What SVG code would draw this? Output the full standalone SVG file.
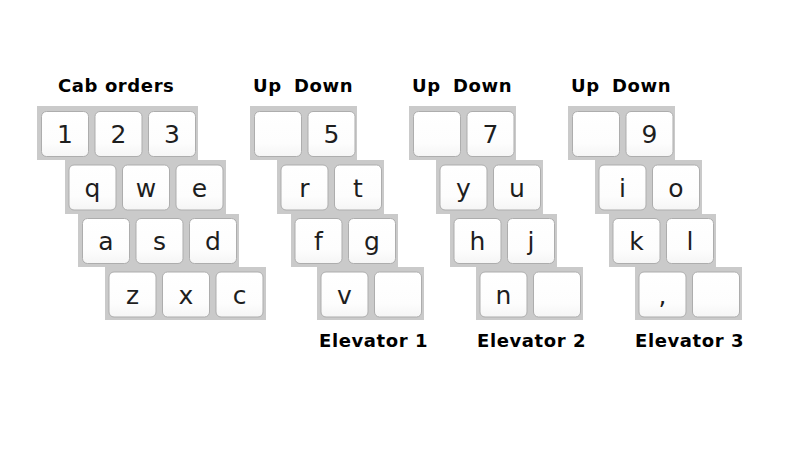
<svg xmlns="http://www.w3.org/2000/svg" width="800" height="450" viewBox="0 0 800 450">
<defs>
<linearGradient id="kg" x1="0" y1="0" x2="0" y2="1">
<stop offset="0" stop-color="#ffffff"/>
<stop offset="0.7" stop-color="#fdfdfd"/>
<stop offset="1" stop-color="#f5f5f5"/>
</linearGradient>
<style>
.bg{fill:#cacaca}
.k{fill:url(#kg);stroke:#adadad;stroke-width:1}
.kt{font-family:"DejaVu Sans",sans-serif;font-size:25px;fill:#1e1e1e;text-anchor:middle}
.lb{font-family:"DejaVu Sans",sans-serif;font-size:18px;font-weight:bold;fill:#000;letter-spacing:0.6px}
</style>
</defs>
<rect width="800" height="450" fill="#fff"/>

<g id="cab-orders">
<text class="lb" x="58" y="92">Cab orders</text>
<rect class="bg" x="37" y="106" width="161" height="54"/>
<rect class="bg" x="65" y="160" width="161" height="54"/>
<rect class="bg" x="78" y="214" width="161" height="53"/>
<rect class="bg" x="105" y="267" width="161" height="53"/>
<rect class="k" x="41.5" y="111.5" width="47" height="45" rx="5"/>
<rect class="k" x="95" y="111.5" width="47" height="45" rx="5"/>
<rect class="k" x="148.5" y="111.5" width="47" height="45" rx="5"/>
<rect class="k" x="69" y="165" width="47" height="45" rx="5"/>
<rect class="k" x="122.5" y="165" width="47" height="45" rx="5"/>
<rect class="k" x="176" y="165" width="47" height="45" rx="5"/>
<rect class="k" x="82.5" y="218.5" width="47" height="45" rx="5"/>
<rect class="k" x="136" y="218.5" width="47" height="45" rx="5"/>
<rect class="k" x="189.5" y="218.5" width="47" height="45" rx="5"/>
<rect class="k" x="109" y="272" width="47" height="45" rx="5"/>
<rect class="k" x="162.5" y="272" width="47" height="45" rx="5"/>
<rect class="k" x="216" y="272" width="47" height="45" rx="5"/>
<text class="kt" x="65" y="143">1</text>
<text class="kt" x="118.5" y="143">2</text>
<text class="kt" x="172" y="143">3</text>
<text class="kt" x="92.5" y="197">q</text>
<text class="kt" x="146" y="197">w</text>
<text class="kt" x="199.5" y="197">e</text>
<text class="kt" x="106" y="250">a</text>
<text class="kt" x="159.5" y="250">s</text>
<text class="kt" x="213" y="250">d</text>
<text class="kt" x="132.5" y="304">z</text>
<text class="kt" x="186" y="304">x</text>
<text class="kt" x="239.5" y="304">c</text>
</g>

<g id="elevator-1" transform="translate(213,0)">
<text class="lb" x="40" y="92">Up</text>
<text class="lb" x="81" y="92">Down</text>
<rect class="bg" x="37" y="106" width="107" height="54"/>
<rect class="bg" x="64" y="160" width="107" height="54"/>
<rect class="bg" x="78" y="214" width="107" height="53"/>
<rect class="bg" x="104" y="267" width="107" height="53"/>
<rect class="k" x="41.5" y="111.5" width="47" height="45" rx="5"/>
<rect class="k" x="95" y="111.5" width="47" height="45" rx="5"/>
<rect class="k" x="68" y="165" width="47" height="45" rx="5"/>
<rect class="k" x="121.5" y="165" width="47" height="45" rx="5"/>
<rect class="k" x="82" y="218.5" width="47" height="45" rx="5"/>
<rect class="k" x="135.5" y="218.5" width="47" height="45" rx="5"/>
<rect class="k" x="108" y="272" width="47" height="45" rx="5"/>
<rect class="k" x="161.5" y="272" width="47" height="45" rx="5"/>
<text class="kt" x="118.5" y="143">5</text>
<text class="kt" x="91.5" y="197">r</text>
<text class="kt" x="145" y="197">t</text>
<text class="kt" x="105.5" y="250">f</text>
<text class="kt" x="159" y="250">g</text>
<text class="kt" x="131.5" y="304">v</text>
<text class="lb" x="106" y="347">Elevator 1</text>
</g>

<g id="elevator-2" transform="translate(372,0)">
<text class="lb" x="40" y="92">Up</text>
<text class="lb" x="81" y="92">Down</text>
<rect class="bg" x="37" y="106" width="107" height="54"/>
<rect class="bg" x="64" y="160" width="107" height="54"/>
<rect class="bg" x="78" y="214" width="107" height="53"/>
<rect class="bg" x="104" y="267" width="107" height="53"/>
<rect class="k" x="41.5" y="111.5" width="47" height="45" rx="5"/>
<rect class="k" x="95" y="111.5" width="47" height="45" rx="5"/>
<rect class="k" x="68" y="165" width="47" height="45" rx="5"/>
<rect class="k" x="121.5" y="165" width="47" height="45" rx="5"/>
<rect class="k" x="82" y="218.5" width="47" height="45" rx="5"/>
<rect class="k" x="135.5" y="218.5" width="47" height="45" rx="5"/>
<rect class="k" x="108" y="272" width="47" height="45" rx="5"/>
<rect class="k" x="161.5" y="272" width="47" height="45" rx="5"/>
<text class="kt" x="118.5" y="143">7</text>
<text class="kt" x="91.5" y="197">y</text>
<text class="kt" x="145" y="197">u</text>
<text class="kt" x="105.5" y="250">h</text>
<text class="kt" x="159" y="250">j</text>
<text class="kt" x="131.5" y="304">n</text>
<text class="lb" x="105" y="347">Elevator 2</text>
</g>

<g id="elevator-3" transform="translate(531,0)">
<text class="lb" x="40" y="92">Up</text>
<text class="lb" x="81" y="92">Down</text>
<rect class="bg" x="37" y="106" width="107" height="54"/>
<rect class="bg" x="64" y="160" width="107" height="54"/>
<rect class="bg" x="78" y="214" width="107" height="53"/>
<rect class="bg" x="104" y="267" width="107" height="53"/>
<rect class="k" x="41.5" y="111.5" width="47" height="45" rx="5"/>
<rect class="k" x="95" y="111.5" width="47" height="45" rx="5"/>
<rect class="k" x="68" y="165" width="47" height="45" rx="5"/>
<rect class="k" x="121.5" y="165" width="47" height="45" rx="5"/>
<rect class="k" x="82" y="218.5" width="47" height="45" rx="5"/>
<rect class="k" x="135.5" y="218.5" width="47" height="45" rx="5"/>
<rect class="k" x="108" y="272" width="47" height="45" rx="5"/>
<rect class="k" x="161.5" y="272" width="47" height="45" rx="5"/>
<text class="kt" x="118.5" y="143">9</text>
<text class="kt" x="91.5" y="197">i</text>
<text class="kt" x="145" y="197">o</text>
<text class="kt" x="105.5" y="250">k</text>
<text class="kt" x="159" y="250">l</text>
<text class="kt" x="131.5" y="304">,</text>
<text class="lb" x="104" y="347">Elevator 3</text>
</g>
</svg>
